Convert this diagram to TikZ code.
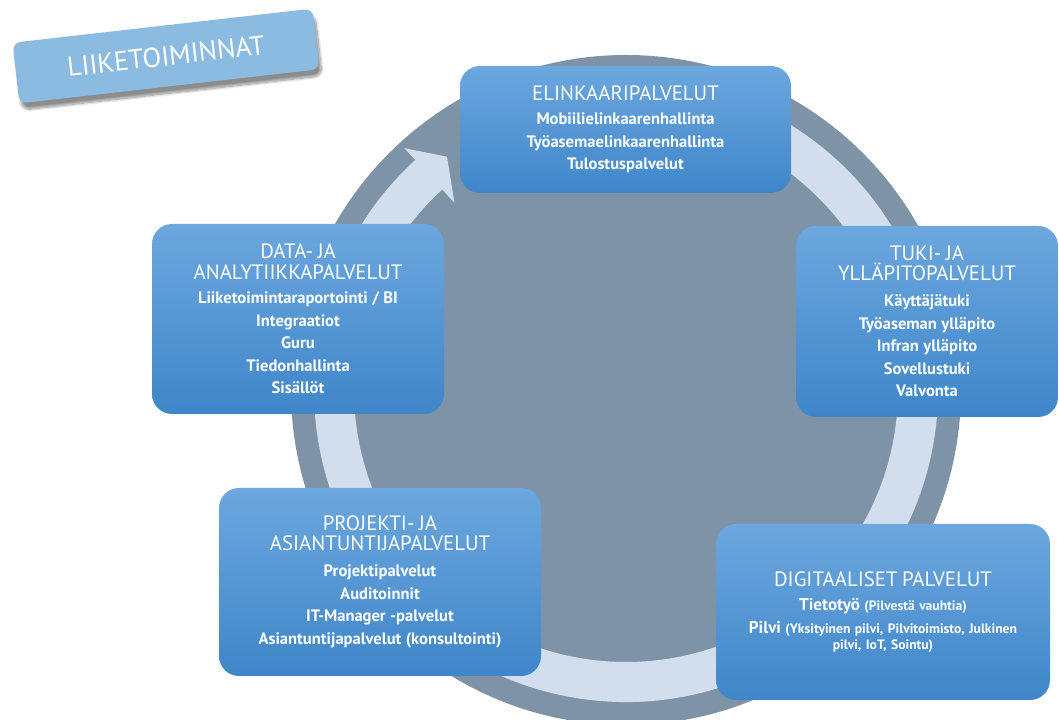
\documentclass[tikz,border=0pt]{standalone}
\usepackage{fontspec}
\setmainfont{PT Sans}
\usetikzlibrary{calc,shadows.blur}
\setlength\parindent{0pt}
\hyphenpenalty=10000
\definecolor{boxtop}{HTML}{6CA7DE}
\definecolor{boxbot}{HTML}{3F86C9}
\definecolor{disc}{HTML}{7E94A6}
\definecolor{ring}{HTML}{D2DEEE}
\definecolor{tagfill}{HTML}{8BBBE1}
% title, item and small-print fonts of the service boxes
\newcommand\ttl{\mdseries\fontsize{15.6}{15.2}\selectfont}
\newcommand\itm{\bfseries\fontsize{12.4}{16.9}\selectfont}
\newcommand\dig{\bfseries\fontsize{12.8}{17.6}\selectfont}
\newcommand\sml{\bfseries\fontsize{10.2}{12}\selectfont}
\begin{document}
\begin{tikzpicture}[x=0.75pt,y=0.75pt,
  svcbox/.style={rounded corners=15pt, top color=boxtop, bottom color=boxbot,
    draw=none, text=white, align=center, inner sep=0pt},
  tagbox/.style={rounded corners=6pt, fill=tagfill, text=white, inner sep=0pt,
    font=\fontsize{20.6}{20.6}\selectfont,
    blur shadow={shadow xshift=2pt, shadow yshift=-5pt, shadow blur steps=10, shadow opacity=45}},
]
\useasboundingbox (0,0) rectangle (1059,720);
\clip (0,0) rectangle (1059,720);

% grey disc and the circular arrow band
\coordinate (c) at (626,330);
\fill[disc] (c) circle[radius=335];
\fill[ring] ($(c)+(110:312)$) arc[start angle=110, end angle=-227.5, radius=312]
  -- ($(c)+(132.5:328)$) -- ($(c)+(127.5:294)$) -- ($(c)+(132.5:254)$)
  -- ($(c)+(132.5:272)$) arc[start angle=132.5, end angle=470, radius=272] -- cycle;

% heading tag
\node[tagbox, rotate=6.5, minimum width=226.5pt, minimum height=45.75pt] (tag) at (166,664) {LIIKETOIMINNAT};

% service boxes
\node[svcbox, text width=248.25pt, minimum height=95.25pt] (elink) at (625.5,590.5)
  {\ttl ELINKAARIPALVELUT\par\vspace{1pt}
   \itm Mobiilielinkaarenhallinta\par Työasemaelinkaarenhallinta\par Tulostuspalvelut\par};

\node[svcbox, text width=196.5pt, minimum height=143.25pt] (tuki) at (927,398.5)
  {\ttl TUKI- JA\par YLLÄPITOPALVELUT\par\vspace{2.5pt}
   \itm Käyttäjätuki\par Työaseman ylläpito\par Infran ylläpito\par Sovellustuki\par Valvonta\par};

\node[svcbox, text width=219pt, minimum height=142.5pt] (data) at (298,401)
  {\ttl DATA- JA\par ANALYTIIKKAPALVELUT\par\vspace{1.5pt}
   \itm Liiketoimintaraportointi / BI\par Integraatiot\par Guru\par Tiedonhallinta\par Sisällöt\par};

\node[svcbox, text width=241.5pt, minimum height=141pt] (proj) at (380,138)
  {\ttl PROJEKTI- JA\par ASIANTUNTIJAPALVELUT\par\vspace{2.5pt}
   \itm Projektipalvelut\par Auditoinnit\par IT-Manager -palvelut\par Asiantuntijapalvelut (konsultointi)\par};

\node[svcbox, text width=250.5pt, minimum height=132pt] (digi) at (883,108)
  {\ttl DIGITAALISET PALVELUT\par\vspace{0.5pt}
   \dig Tietotyö {\sml(Pilvestä vauhtia)}\par
   \dig Pilvi {\sml(Yksityinen pilvi, Pilvitoimisto, Julkinen}\par
   {\sml pilvi, IoT, Sointu)\par}};
\end{tikzpicture}
\end{document}
